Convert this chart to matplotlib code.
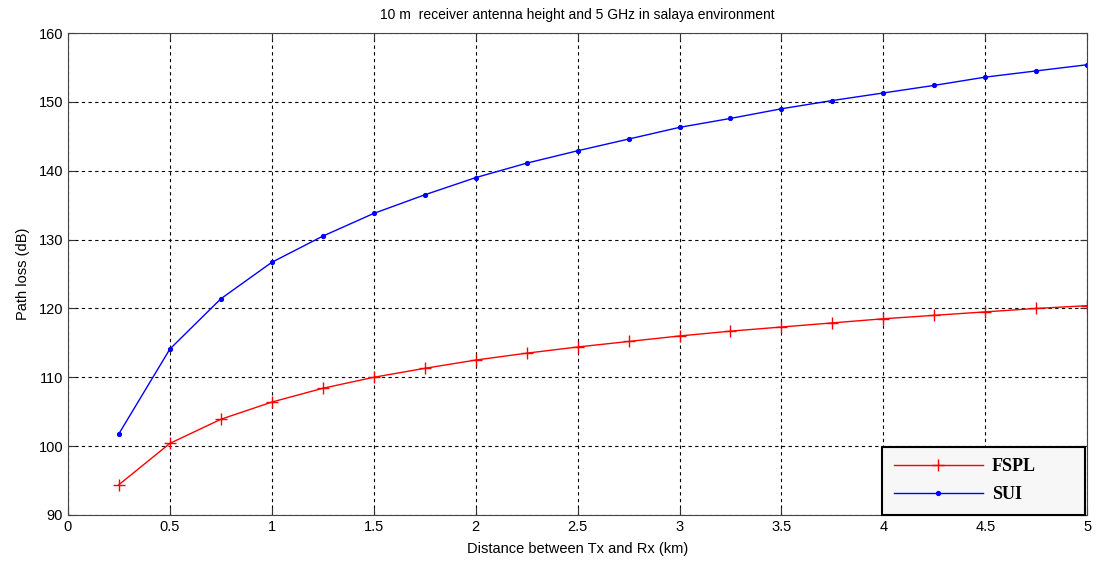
import numpy as np
import matplotlib.pyplot as plt

# distances (km)
distance = [0.25, 0.5, 0.75, 1.0, 1.25, 1.5, 1.75, 2.0, 2.25, 2.5,
            2.75, 3.0, 3.25, 3.5, 3.75, 4.0, 4.25, 4.5, 4.75, 5.0]

# path loss (dB)
fspl = [94.4, 100.4, 103.9, 106.4, 108.4, 110.0, 111.3, 112.5, 113.5, 114.4,
        115.2, 116.0, 116.7, 117.3, 117.9, 118.5, 119.0, 119.5, 120.0, 120.4]
sui = [101.8, 114.1, 121.4, 126.7, 130.5, 133.8, 136.5, 139.0, 141.1, 142.9,
       144.6, 146.3, 147.6, 149.0, 150.2, 151.3, 152.4, 153.6, 154.5, 155.4]

plt.rcParams['font.family'] = ['Liberation Sans', 'DejaVu Sans']

fig = plt.figure(figsize=(10.96, 5.63), dpi=100)
ax = fig.add_axes([0.062, 0.0853, 0.930, 0.856])

ax.plot(distance, fspl, color='red', linewidth=1, marker='+', markersize=9,
        markeredgewidth=1, label='FSPL')
ax.plot(distance, sui, color='blue', linewidth=1, marker='.', markersize=5.5,
        label='SUI')

ax.set_xlim(0, 5)
ax.set_ylim(90, 160)
ax.set_xticks(np.arange(0, 5.01, 0.5))
ax.set_xticklabels(['0', '0.5', '1', '1.5', '2', '2.5', '3', '3.5', '4', '4.5', '5'])
ax.set_yticks(np.arange(90, 161, 10))

ax.grid(True, color='black', linestyle=(0, (3, 3)), linewidth=0.8)
ax.tick_params(direction='in', top=True, right=True, length=5, labelsize=10.5,
               colors='#333333', labelcolor='black')
for s in ax.spines.values():
    s.set_color('#444444')

ax.set_xlabel('Distance between Tx and Rx (km)', fontsize=10.5, labelpad=6)
ax.set_ylabel('Path loss (dB)', fontsize=10.5, labelpad=6)
ax.set_title('10 m  receiver antenna height and 5 GHz in salaya environment',
             fontsize=10, pad=10)

leg = ax.legend(loc='lower left', bbox_to_anchor=(0.799, 0.0, 0.199, 0.147),
                mode='expand', borderaxespad=0,
                prop={'family': 'Liberation Serif', 'weight': 'bold', 'size': 13},
                fancybox=False, framealpha=1, edgecolor='black',
                handlelength=4.9, borderpad=0.65, labelspacing=0.6,
                handletextpad=0.5)
leg.get_frame().set_facecolor('#f7f7f7')
leg.get_frame().set_linewidth(1.5)

fig.savefig('out.png', dpi=100)
